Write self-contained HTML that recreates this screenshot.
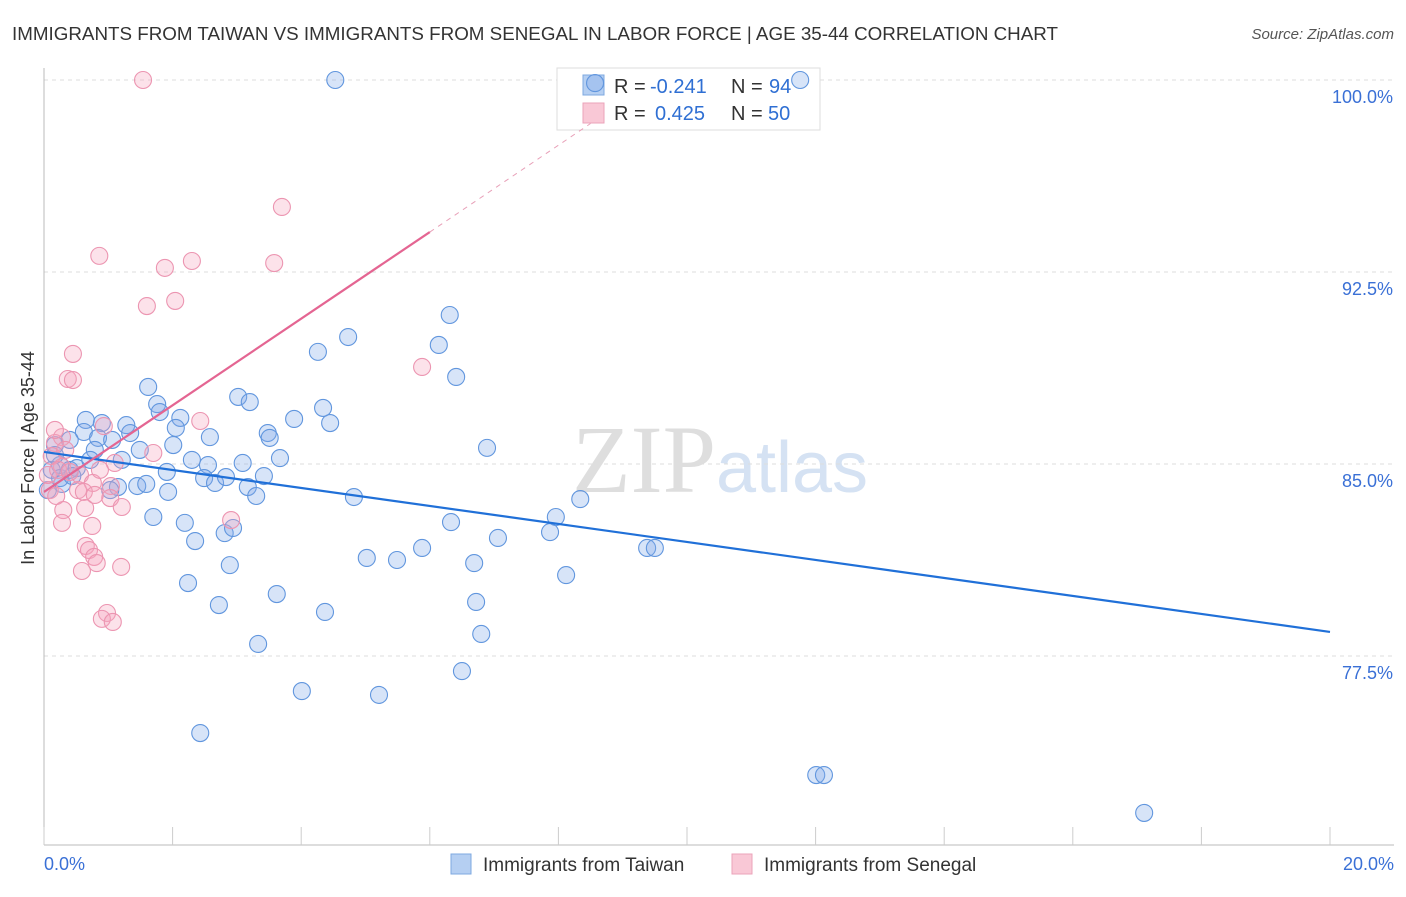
<!DOCTYPE html>
<html><head><meta charset="utf-8"><style>
body{margin:0;background:#fff;font-family:"Liberation Sans",sans-serif;}
svg text{font-family:"Liberation Sans",sans-serif;}
</style></head><body>
<svg id="chart" width="1406" height="892" xmlns="http://www.w3.org/2000/svg">
<text x="12" y="40" font-size="18.5" fill="#333" textLength="1046" lengthAdjust="spacingAndGlyphs">IMMIGRANTS FROM TAIWAN VS IMMIGRANTS FROM SENEGAL IN LABOR FORCE | AGE 35-44 CORRELATION CHART</text>
<text x="1394" y="39" font-size="15" fill="#555" text-anchor="end" font-style="italic">Source: ZipAtlas.com</text>
<text x="720" y="492" font-size="96" fill="#e6e6e6" text-anchor="middle" font-family="Liberation Serif"><tspan fill="#dedede" font-family="Liberation Serif">ZIP</tspan><tspan fill="#d5e2f3" font-size="72" font-family="Liberation Sans">atlas</tspan></text>
<g id="grid"></g><g id="axes"></g>
<g>
<rect x="557" y="68" width="263" height="62" fill="#fff" stroke="#ddd"/>
<rect x="583" y="75" width="21" height="20" fill="#b5cff2" stroke="#7ea8e0"/>
<rect x="583" y="103" width="21" height="20" fill="#f9c8d6" stroke="#eba3ba"/>
<text x="614" y="93" font-size="20" fill="#333">R =</text>
<text x="650" y="93" font-size="20" fill="#2f6fd3">-0.241</text>
<text x="731" y="93" font-size="20" fill="#333">N =</text>
<text x="769" y="93" font-size="20" fill="#2f6fd3">94</text>
<text x="614" y="120" font-size="20" fill="#333">R =</text>
<text x="655" y="120" font-size="20" fill="#2f6fd3">0.425</text>
<text x="731" y="120" font-size="20" fill="#333">N =</text>
<text x="768" y="120" font-size="20" fill="#2f6fd3">50</text>
</g>
<g id="pts"></g><g id="lines"></g>
<g>
<rect x="451" y="854" width="20" height="20" fill="#b5cff2" stroke="#7ea8e0"/>
<text x="483" y="871" font-size="19" fill="#333">Immigrants from Taiwan</text>
<rect x="732" y="854" width="20" height="20" fill="#f9c8d6" stroke="#eba3ba"/>
<text x="764" y="871" font-size="19" fill="#333">Immigrants from Senegal</text>
</g>
<text transform="translate(34,458) rotate(-90)" font-size="18" fill="#333" text-anchor="middle">In Labor Force | Age 35-44</text>
</svg>
<script>
const yTicks=[100,92.5,85,77.5];
const yTickLabels=["100.0%","92.5%","85.0%","77.5%"];
const xTickLabels=["0.0%","20.0%"];
const taiwanX=[4.53,8.57,11.76,1.62,1.76,1.80,2.12,1.28,0.90,0.65,0.62,0.84,1.34,0.79,0.40,0.17,0.25,0.12,0.25,0.40,0.51,0.72,1.06,1.21,1.49,2.01,2.05,2.58,2.30,2.55,2.49,2.66,2.83,3.09,3.17,3.30,3.42,3.02,3.20,3.48,3.51,3.67,3.89,4.26,4.34,4.45,4.73,4.82,6.31,6.14,6.41,6.89,8.34,7.96,7.87,6.33,7.06,6.69,5.88,5.49,5.02,6.72,6.80,6.50,8.12,9.38,9.50,5.21,4.01,3.33,2.43,2.72,2.89,2.24,2.19,2.35,2.81,2.94,3.62,4.37,1.70,1.93,1.45,1.59,1.15,1.03,12.01,12.13,17.11,1.91,0.28,0.06,0.17,0.44];
const taiwanY=[100,99.88,100,88.01,87.34,87.03,86.80,86.52,86.60,86.72,86.25,86.02,86.21,85.55,85.94,85.74,84.96,84.77,84.45,84.77,84.84,85.16,85.94,85.16,85.55,85.74,86.41,86.05,85.16,84.96,84.45,84.26,84.49,85.04,84.10,83.75,84.53,87.62,87.42,86.21,86.02,85.23,86.76,89.38,87.19,86.60,89.96,83.71,90.82,89.65,88.40,85.63,83.63,82.93,82.34,82.73,82.11,81.13,81.72,81.25,81.33,79.61,78.36,76.91,80.66,81.72,81.72,75.98,76.13,77.97,74.49,79.49,81.05,80.35,82.70,81.99,82.30,82.50,79.92,79.22,82.93,83.91,84.14,84.22,84.10,83.98,72.85,72.85,71.37,84.69,84.22,83.98,85.35,84.53];
const senegalX=[1.54,3.70,0.86,1.88,2.30,3.58,1.60,2.04,0.45,0.37,0.45,5.88,2.43,0.93,1.70,1.10,0.28,0.17,0.12,0.28,0.56,0.76,1.04,0.53,0.62,1.03,1.21,0.64,0.30,0.28,0.75,2.91,0.65,0.70,0.78,0.82,0.59,1.20,0.98,0.90,1.07,0.09,0.19,0.06,0.22,0.40,0.79,0.17,0.33,0.87];
const senegalY=[100,95.04,93.13,92.66,92.93,92.85,91.17,91.37,89.30,88.32,88.28,88.79,86.68,86.48,85.43,85.04,86.05,85.82,85.31,84.88,84.57,84.26,84.14,83.98,83.91,83.67,83.32,83.28,83.20,82.70,82.58,82.81,81.80,81.64,81.37,81.13,80.82,80.98,79.18,78.95,78.83,83.98,83.75,84.57,84.77,84.69,83.79,86.33,85.55,84.77];
const taiwanTrend=[[0,85.47],[20,78.44]];
const senegalTrend=[[0,83.91],[6.0,94.06]];
const senegalTrendExt=[[6.0,94.06],[8.5,98.3]];

const X=v=>44+v/20*1286;
const Y=v=>80+(100-v)*25.6;
const NS="http://www.w3.org/2000/svg";
function mk(tag,parent,attrs){const e=document.createElementNS(NS,tag);for(const k in attrs)e.setAttribute(k,attrs[k]);parent.appendChild(e);return e;}
const grid=document.getElementById('grid'),axes=document.getElementById('axes'),pts=document.getElementById('pts'),lines=document.getElementById('lines');
yTicks.forEach((t,i)=>{
  const l=mk('line',grid,{x1:44,x2:1394,y1:Y(t),y2:Y(t),stroke:'#ddd','stroke-dasharray':'4,4'});
  
  
  const tx=mk('text',axes,{x:1393,y:Y(t)+23,'font-size':18,fill:'#3a70d6','text-anchor':'end'});
  tx.textContent=yTickLabels[i];
  
  
});
const ya=mk('line',axes,{x1:44,x2:44,y1:68,y2:845,stroke:'#bbb'});


const xa=mk('line',axes,{x1:44,x2:1394,y1:845,y2:845,stroke:'#bbb'});


for(let i=0;i<=10;i++){
  const t=mk('line',axes,{x1:X(i*2),x2:X(i*2),y1:827,y2:845,stroke:'#ccc'});
  
  
}
[[0,'start',44],[20,'end',1394]].forEach((d,i)=>{
  const tx=mk('text',axes,{x:d[2],y:870,'font-size':18,fill:'#3a70d6','text-anchor':d[1]});
  tx.textContent=xTickLabels[i];
  
  
});
taiwanX.forEach((v,i)=>{
  const c=mk('circle',pts,{cx:X(v),cy:Y(taiwanY[i]),r:8.5,fill:'rgba(130,172,232,0.32)',stroke:'#6196de','stroke-width':1.1});
  
  
});
senegalX.forEach((v,i)=>{
  const c=mk('circle',pts,{cx:X(v),cy:Y(senegalY[i]),r:8.5,fill:'rgba(245,165,190,0.32)',stroke:'#ec95b1','stroke-width':1.1});
  
  
});
const bl=mk('line',lines,{x1:X(taiwanTrend[0][0]),y1:Y(taiwanTrend[0][1]),x2:X(taiwanTrend[1][0]),y2:Y(taiwanTrend[1][1]),stroke:'#2070d8','stroke-width':2.2});


const pl=mk('line',lines,{x1:X(senegalTrend[0][0]),y1:Y(senegalTrend[0][1]),x2:X(senegalTrend[1][0]),y2:Y(senegalTrend[1][1]),stroke:'#e46592','stroke-width':2.2});


const pd=mk('line',lines,{x1:X(senegalTrendExt[0][0]),y1:Y(senegalTrendExt[0][1]),x2:X(senegalTrendExt[1][0]),y2:Y(senegalTrendExt[1][1]),stroke:'#e8a0b8','stroke-width':1,'stroke-dasharray':'5,5'});


</script>
</body></html>
